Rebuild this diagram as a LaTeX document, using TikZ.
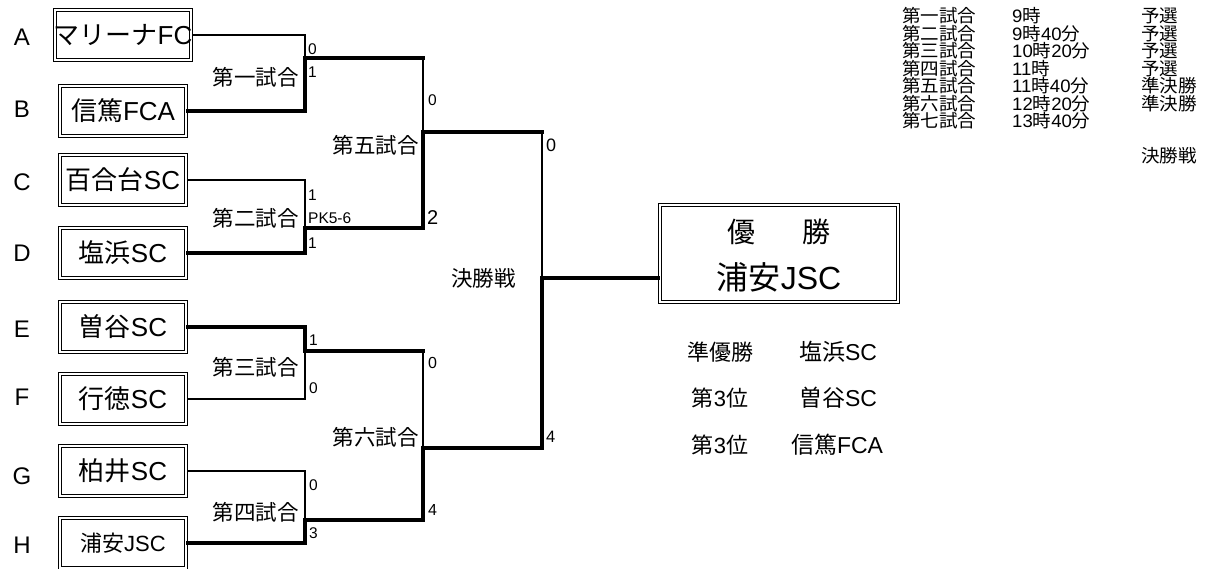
\documentclass[tikz,border=0pt]{standalone}
\usepackage{fontspec}
\setmainfont{Liberation Sans}
\newfontfamily\jpf{Noto Sans CJK JP}
\newcommand\J[1]{{\jpf #1}}
\newcommand\fs[1]{\fontsize{#1}{#1}\selectfont}
\begin{document}
\begin{tikzpicture}[x=1pt,y=-1pt,
  dbl/.style={draw, line width=1pt, inner sep=0pt,
    path picture={\draw[line width=1pt]
      ([xshift=3pt,yshift=-3pt]path picture bounding box.north west) rectangle
      ([xshift=-3pt,yshift=3pt]path picture bounding box.south east);}},
  team/.style={dbl, minimum width=129pt, minimum height=53pt, font=\fs{26}},
  letter/.style={font=\fs{24}},
  lose/.style={line width=1.4pt, line cap=rect},
  win/.style={line width=4pt, line cap=rect, line join=miter},
  mlabel/.style={font=\fs{21.5}, inner sep=0pt, anchor=east},
  sc/.style={font=\fs{15.5}, inner sep=0pt, anchor=west},
  scb/.style={font=\fs{18}, inner sep=0pt, anchor=west},
  sched/.style={font=\fs{18}, inner sep=0pt, anchor=west},
  res/.style={font=\fs{22}, inner sep=0pt}
]
\useasboundingbox (0,0) rectangle (1213,569);

% letters
\node[letter] (lA) at (22,37) {A};
\node[letter] (lB) at (22,109) {B};
\node[letter] (lC) at (22,182) {C};
\node[letter] (lD) at (22,253) {D};
\node[letter] (lE) at (22,329) {E};
\node[letter] (lF) at (22,397) {F};
\node[letter] (lG) at (22,476) {G};
\node[letter] (lH) at (22,545) {H};

% team boxes
\node[team] (A) at (123,35) {\J{マリーナ}FC};
\node[team] (B) at (123,111) {\J{信篤}FCA};
\node[team] (C) at (123,180) {\J{百合台}SC};
\node[team] (D) at (123,253) {\J{塩浜}SC};
\node[team] (E) at (123,327) {\J{曽谷}SC};
\node[team] (F) at (123,399) {\J{行徳}SC};
\node[team] (G) at (123,471) {\J{柏井}SC};
\node[team,font=\fs{22}] (H) at (123,543) {\J{浦安}JSC};

% winner box
\node[dbl, minimum width=241pt, minimum height=100pt] (W) at (779,253.5) {};
\node[font=\fs{28}, inner sep=0pt] (w1) at (741,232) {\J{優}};
\node[font=\fs{28}, inner sep=0pt] (w2) at (816,232) {\J{勝}};
\node[font=\fs{32}, inner sep=0pt] (w3) at (779,277) {\J{浦安}JSC};

% junctions
\coordinate (m1) at (305,58);
\coordinate (m2) at (305,228);
\coordinate (m3) at (305,351);
\coordinate (m4) at (305,520);
\coordinate (m5) at (423,132);
\coordinate (m6) at (423,448);
\coordinate (m1r) at (423,58);
\coordinate (m2r) at (423,228);
\coordinate (m3r) at (423,351);
\coordinate (m4r) at (423,520);
\coordinate (f5) at (542,132);
\coordinate (f6) at (542,448);
\coordinate (fm) at (542,278);

% losers
\draw[lose] (A.east) -| (m1);
\draw[lose] (C.east) -| (m2);
\draw[lose] (F.east) -| (m3);
\draw[lose] (G.east) -| (m4);
\draw[lose] (m1r) -- (m5);
\draw[lose] (m3r) -- (m6);
\draw[lose] (f5) -- (fm);

% winners
\draw[win] (B.east) -| (m1) -- (m1r);
\draw[win] (D.east) -| (m2) -- (m2r) -- (m5) -- (f5);
\draw[win] (E.east) -| (m3) -- (m3r);
\draw[win] (H.east) -| (m4) -- (m4r) -- (m6) -- (f6) -- (fm) -- (fm -| W.west);

% match labels
\node[mlabel] (g1) at (299,77) {\J{第一試合}};
\node[mlabel] (g2) at (299,218) {\J{第二試合}};
\node[mlabel] (g3) at (299,367) {\J{第三試合}};
\node[mlabel] (g4) at (299,512) {\J{第四試合}};
\node[mlabel] (g5) at (419,145) {\J{第五試合}};
\node[mlabel] (g6) at (419,437) {\J{第六試合}};
\node[mlabel] (g7) at (516,278) {\J{決勝戦}};

% scores
\node[sc] (s1a) at (308,49) {0};
\node[sc] (s1b) at (308,72) {1};
\node[sc] (s2a) at (308,195) {1};
\node[sc] (s2p) at (308,218) {PK5-6};
\node[sc] (s2b) at (308,243) {1};
\node[sc] (s3a) at (309,340) {1};
\node[sc] (s3b) at (309,388) {0};
\node[sc] (s4a) at (309,485) {0};
\node[sc] (s4b) at (309,533) {3};
\node[sc] (s5a) at (428,100) {0};
\node[scb,font=\fs{20}] (s5b) at (427,218) {2};
\node[sc,font=\fs{16}] (s6a) at (428,363) {0};
\node[sc,font=\fs{16}] (s6b) at (428,510) {4};
\node[scb] (sfa) at (546,145) {0};
\node[scb,font=\fs{16.5}] (sfb) at (546,437) {4};

% schedule
\foreach \r/\yy/\n/\t/\k in {1/16/第一試合/{9\J{時}}/{\J{予選}},
  2/33.5/第二試合/{9\J{時}40\J{分}}/{\J{予選}},
  3/51/第三試合/{10\J{時}20\J{分}}/{\J{予選}},
  4/68.5/第四試合/{11\J{時}}/{\J{予選}},
  5/86/第五試合/{11\J{時}40\J{分}}/{\J{準決勝}},
  6/103.5/第六試合/{12\J{時}20\J{分}}/{\J{準決勝}},
  7/121/第七試合/{13\J{時}40\J{分}}/{}}{
  \node[sched] (sa\r) at (902,\yy) {\scalebox{1.03}[1]{\J{\n}}};
  \node[sched] (sb\r) at (1012,\yy) {\scalebox{1.03}[1]{\t}};
  \node[sched] (sc\r) at (1141,\yy) {\scalebox{1.03}[1]{\k}};
}
\node[sched] (sc8) at (1141,156) {\scalebox{1.03}[1]{\J{決勝戦}}};

% results
\node[res] (r1) at (720,352) {\J{準優勝}};
\node[res,font=\fs{23}] (r1n) at (838,352) {\J{塩浜}SC};
\node[res] (r2) at (720,398) {\J{第}3\J{位}};
\node[res,font=\fs{23}] (r2n) at (838,398) {\J{曽谷}SC};
\node[res] (r3) at (720,445) {\J{第}3\J{位}};
\node[res,font=\fs{23}] (r3n) at (837,445) {\J{信篤}FCA};
\end{tikzpicture}
\end{document}
